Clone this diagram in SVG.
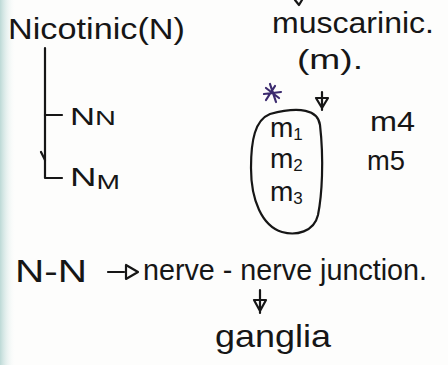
<svg xmlns="http://www.w3.org/2000/svg" width="448" height="365" viewBox="0 0 448 365">
<defs>
<linearGradient id="edge" x1="0" x2="1" y1="0" y2="0">
<stop offset="0" stop-color="#bcd9d6"/>
<stop offset="1" stop-color="#ffffff" stop-opacity="0"/>
</linearGradient>
</defs>
<style>
.t{font-family:"Liberation Sans","DejaVu Sans",sans-serif;fill:#161616;}
.ln{stroke:#161616;stroke-width:2.2;fill:none;stroke-linecap:round;stroke-linejoin:round;}
</style>
<rect width="448" height="365" fill="#fdfdfc"/>
<rect width="16" height="365" fill="url(#edge)"/>
<g id="connectors">
<path class="ln" d="M45 48 L45 178 L62 178"/>
<path class="ln" d="M41 152 L45 160"/>
<path class="ln" d="M45 115 L62 115"/>
<path class="ln" d="M295 0 L299 5 L302 0"/>
<path class="ln" d="M322 92 L322 110 M316 98 L328 98 L322 108 Z"/>
<path class="ln" d="M108 272 L124 272 M126 265 L126 279 L138 272 Z"/>
<path class="ln" d="M260 290 L260 313 M254 300 L266 300 L260 311 Z"/>
<path d="M266 100 L275 86 M266 88 L279 98 M270 84 L276 102 M264 94 L281 92" stroke="#3b2a6e" stroke-width="2.2" fill="none" stroke-linecap="round"/>
</g>
<g id="nicotinic"><text class="t" x="8" y="39" font-size="30" textLength="177" lengthAdjust="spacingAndGlyphs">Nicotinic(N)</text></g>
<g id="nn"><text class="t" x="70" y="125" font-size="24" textLength="46" lengthAdjust="spacingAndGlyphs">N<tspan font-size="20">N</tspan></text></g>
<g id="nm"><text class="t" x="70" y="186" font-size="26" textLength="50" lengthAdjust="spacingAndGlyphs">N<tspan font-size="20" dy="3">M</tspan></text></g>
<g id="muscarinic"><text class="t" x="272" y="33" font-size="30" textLength="162" lengthAdjust="spacingAndGlyphs">muscarinic.</text></g>
<g id="m"><text class="t" x="297" y="69" font-size="28" textLength="66" lengthAdjust="spacingAndGlyphs">(m).</text></g>
<g id="m123">
<path class="ln" d="M270 114 C300 106 318 110 320 125 C324 160 322 195 318 215 C314 232 296 236 282 232 C262 226 251 200 251 168 C251 140 255 120 270 114 Z"/>
<text class="t" x="270" y="137" font-size="28">m<tspan font-size="17" dy="3">1</tspan></text>
<text class="t" x="270" y="168" font-size="28">m<tspan font-size="17" dy="3">2</tspan></text>
<text class="t" x="270" y="201" font-size="28">m<tspan font-size="17" dy="3">3</tspan></text>
</g>
<g id="m4"><text class="t" x="370" y="131" font-size="28" textLength="45" lengthAdjust="spacingAndGlyphs">m4</text></g>
<g id="m5"><text class="t" x="367" y="170" font-size="28" textLength="38" lengthAdjust="spacingAndGlyphs">m5</text></g>
<g id="nn-junction">
<text class="t" x="15" y="282" font-size="32" textLength="72" lengthAdjust="spacingAndGlyphs">N-N</text>
<text class="t" x="143" y="280" font-size="30" textLength="284" lengthAdjust="spacingAndGlyphs">nerve - nerve junction.</text>
</g>
<g id="ganglia"><text class="t" x="215" y="347" font-size="32" textLength="116" lengthAdjust="spacingAndGlyphs">ganglia</text></g>
</svg>
